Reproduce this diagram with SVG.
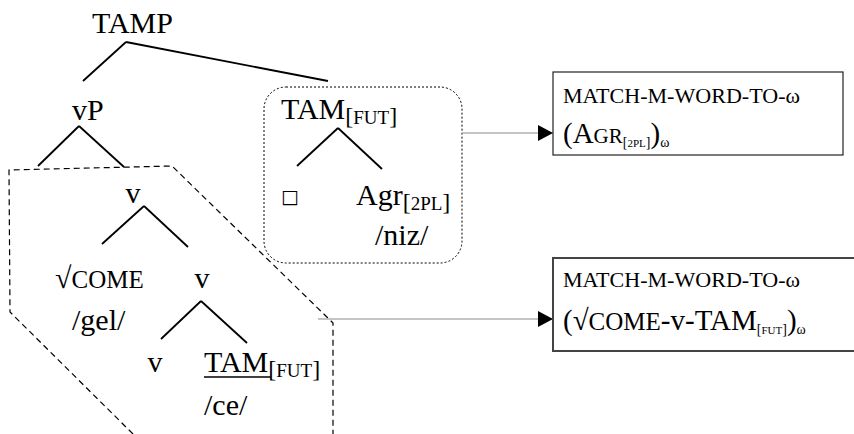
<svg xmlns="http://www.w3.org/2000/svg" width="854" height="434" viewBox="0 0 854 434">
<defs>
<style>
.t{font-family:"Liberation Serif","Times New Roman",serif;fill:#000}
.big{font-size:30px}
.bx{font-size:29px}
.sc{font-size:25px}
.sub{font-size:24px}
.subsc{font-size:19px}
.l1{font-size:22px}
.bsub{font-size:14px}
.bsubsc{font-size:11px}
.om{font-size:14px}
.br{stroke:#000;stroke-width:1.8;fill:none;stroke-linecap:butt}
.arr{stroke:#b0b0b0;stroke-width:1.5;fill:none}
</style>
<marker id="ah" markerWidth="15" markerHeight="16" refX="15" refY="8" orient="auto" markerUnits="userSpaceOnUse">
<path d="M0,0 L15,8 L0,16 Z" fill="#000"/>
</marker>
</defs>
<rect width="854" height="434" fill="#fff"/>

<g id="regions">
<path d="M133,434 L10,312 L9,170 L172,166 L333,323 L333,434" fill="none" stroke="#000" stroke-width="1.2" stroke-dasharray="6,4"/>
<rect x="264" y="87" width="198" height="176" rx="22" ry="22" fill="none" stroke="#000" stroke-width="1" stroke-dasharray="2,2"/>
</g>

<g id="connectors">
<line class="br" x1="126" y1="42" x2="83" y2="81"/>
<line class="br" x1="126" y1="42" x2="328" y2="81"/>
<line class="br" x1="79" y1="126" x2="38" y2="166"/>
<line class="br" x1="79" y1="126" x2="124" y2="167"/>
<line class="br" x1="338" y1="128" x2="297" y2="166"/>
<line class="br" x1="338" y1="128" x2="382" y2="169"/>
<line class="br" x1="144" y1="206" x2="102" y2="244"/>
<line class="br" x1="144" y1="206" x2="188" y2="247"/>
<line class="br" x1="201" y1="301" x2="161" y2="339"/>
<line class="br" x1="201" y1="301" x2="247" y2="343"/>
<line class="arr" x1="462" y1="133" x2="553" y2="133" marker-end="url(#ah)"/>
<line class="arr" x1="318" y1="319" x2="553" y2="319" marker-end="url(#ah)"/>
</g>

<g id="node-TAMP"><text class="t big" x="92" y="33">TAMP</text></g>
<g id="node-vP"><text class="t big" x="72" y="120">vP</text></g>
<g id="node-TAM-box"><text class="t big" x="281" y="119">TAM<tspan class="sub" dy="5">[</tspan><tspan class="subsc">FUT</tspan><tspan class="sub">]</tspan></text></g>
<g id="node-empty"><text class="t" x="281" y="203" style="font-family:'DejaVu Sans',sans-serif;font-size:19px">□</text></g>
<g id="node-Agr"><text class="t big" x="356" y="205">Agr<tspan class="sub" dy="5">[</tspan><tspan class="subsc">2PL</tspan><tspan class="sub">]</tspan></text>
<text class="t big" x="375" y="245">/niz/</text></g>
<g id="node-v1"><text class="t big" x="133" y="203" text-anchor="middle">v</text></g>
<g id="node-COME"><text class="t big" x="55" y="288">√<tspan class="sc">COME</tspan></text>
<text class="t big" x="72" y="330">/gel/</text></g>
<g id="node-v2"><text class="t big" x="202" y="288" text-anchor="middle">v</text></g>
<g id="node-v3"><text class="t big" x="155" y="372" text-anchor="middle">v</text></g>
<g id="node-TAM-fut"><text class="t big" x="204" y="372">TAM<tspan class="sub" dy="5">[</tspan><tspan class="subsc">FUT</tspan><tspan class="sub">]</tspan></text>
<line x1="204" y1="377" x2="271" y2="377" stroke="#000" stroke-width="1.6"/>
<text class="t big" x="204" y="415">/ce/</text></g>

<g id="box-agr">
<rect x="553" y="72" width="290" height="83" fill="#fff" stroke="#222" stroke-width="1.2"/>
<text class="t l1" x="563" y="103" textLength="237" lengthAdjust="spacingAndGlyphs">MATCH-M-WORD-TO-ω</text>
<text class="t bx" x="563" y="143">(A<tspan style="font-size:21px">GR</tspan><tspan class="bsub" dy="4">[</tspan><tspan class="bsubsc">2PL</tspan><tspan class="bsub">]</tspan><tspan dy="-4">)</tspan><tspan class="om" dy="4">ω</tspan></text>
</g>

<g id="box-come">
<rect x="553" y="258" width="310" height="93" fill="#fff" stroke="#444" stroke-width="2"/>
<text class="t l1" x="563" y="287" textLength="237" lengthAdjust="spacingAndGlyphs">MATCH-M-WORD-TO-ω</text>
<text class="t bx" x="563" y="330">(√<tspan class="sc">COME</tspan>-v-TAM<tspan class="bsub" dy="4">[</tspan><tspan class="bsubsc">FUT</tspan><tspan class="bsub">]</tspan><tspan dy="-4">)</tspan><tspan class="om" dy="4">ω</tspan></text>
</g>
</svg>
